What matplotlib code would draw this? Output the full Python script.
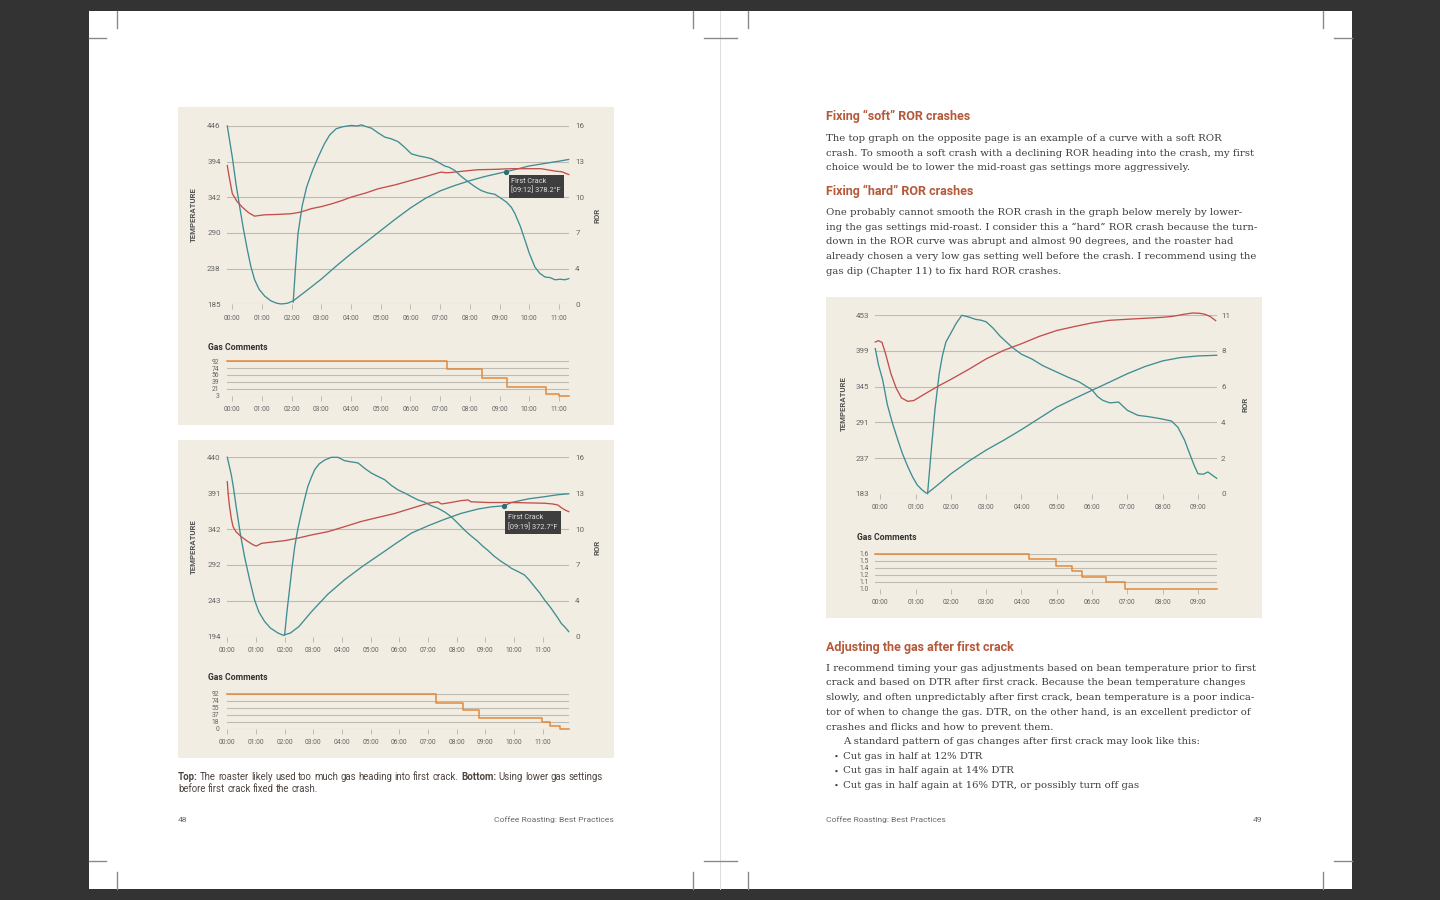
"""
Book spread (pp. 48-49, Coffee Roasting: Best Practices) with three roast logs.
Left page: soft ROR crash (top) vs fixed roast (bottom); right page: hard crash.
"""

import matplotlib
matplotlib.use("Agg")
import matplotlib.pyplot as plt
import numpy as np
from matplotlib.lines import Line2D
from matplotlib.patches import Rectangle

plt.rcParams["font.family"] = ["Roboto", "DejaVu Sans"]

W, H = 1440, 900

FRAME = "#333333"
PANEL = "#f1ede3"
GRID = "#bdbbb2"
TEAL = "#3f8d93"
RED = "#c14f4b"
ORANGE = "#e2893c"
TICK = "#656565"
RUST = "#b5593b"
BODY = "#3c3c3c"

# ---------------------------------------------------------------------------
# Data (time in minutes)
# ---------------------------------------------------------------------------

# top-left graph: soft ROR crash
top_bt_t = [-0.17, 0.0, 0.12, 0.25, 0.37, 0.5, 0.62, 0.75, 0.9, 1.09, 1.3, 1.5, 1.65,
            1.85, 2.05, 2.5, 3.0, 3.5, 4.0, 4.5, 5.0, 5.5, 6.0, 6.5, 7.0, 7.5, 8.0,
            8.5, 9.0, 9.5, 10.0, 10.5, 11.0, 11.33]
top_bt = [446, 400, 362, 327, 296, 266, 241, 221, 207, 197, 190, 186.5, 185.5,
          186.5, 190, 205, 222, 241, 259, 276, 293, 310, 326, 340, 351, 359, 366,
          372, 377, 382, 387.5, 391, 394.5, 397]
top_et_t = [-0.17, -0.1, 0.0, 0.15, 0.34, 0.55, 0.75, 0.9, 1.09, 1.5, 1.99, 2.3, 2.66,
            3.0, 3.34, 3.7, 4.01, 4.5, 4.9, 5.5, 6.03, 6.5, 7.04, 7.2, 7.37, 7.8,
            8.27, 8.8, 9.4, 9.9, 10.4, 10.6, 10.87, 11.1, 11.33]
top_et = [388, 370, 347, 336, 327, 319, 314, 315, 316, 316.5, 317.6, 320, 325,
          328, 332, 337, 342, 348, 354, 360, 366.5, 372, 378.6, 377.5, 378, 380,
          382, 382.5, 383.5, 383.5, 383.5, 382, 380, 379, 375]
top_ror_t = [2.05, 2.12, 2.21, 2.35, 2.5, 2.7, 2.89, 3.1, 3.28, 3.5, 3.75, 4.01, 4.2,
             4.35, 4.5, 4.69, 4.9, 5.14, 5.35, 5.58, 5.8, 6.03, 6.3, 6.5, 6.7, 6.9,
             7.16, 7.3, 7.5, 7.7, 7.94, 8.2, 8.39, 8.6, 8.84, 9.0, 9.23, 9.4, 9.52,
             9.7, 9.86, 10.0, 10.19, 10.35, 10.53, 10.7, 10.87, 11.05, 11.2, 11.33]
top_ror = [0.2, 3.0, 6.3, 8.8, 10.5, 12.0, 13.2, 14.4, 15.2, 15.76, 15.95, 16.05, 16.0,
           16.1, 15.95, 15.8, 15.4, 15.0, 14.85, 14.6, 14.1, 13.5, 13.3, 13.2, 13.07, 12.8,
           12.4, 12.3, 12.0, 11.5, 11.0, 10.5, 10.2, 10.0, 9.87, 9.6, 9.18, 8.7, 8.13,
           7.0, 5.74, 4.6, 3.35, 2.8, 2.45, 2.4, 2.2, 2.25, 2.2, 2.3]
top_gas_t = [-0.17, 7.24, 8.42, 9.26, 10.55, 10.99, 11.33]
top_gas = [92, 71, 49, 24, 7, 3, 3]
top_temp_ticks = ["185", "238", "290", "342", "394", "446"]
top_ror_ticks = ["0", "4", "7", "10", "13", "16"]
top_gas_ticks = ["3", "21", "39", "56", "74", "92"]
top_fc = (9.23, 378.2, "First Crack\n[09:12] 378.2°F")

# bottom-left graph: lower gas before first crack
bot_bt_t = [0.0, 0.07, 0.14, 0.22, 0.31, 0.45, 0.6, 0.78, 0.95, 1.1, 1.3, 1.5, 1.77,
            1.95, 2.2, 2.5, 2.93, 3.5, 4.09, 4.7, 5.26, 5.85, 6.42, 7.0, 7.58, 8.15,
            8.74, 9.2, 9.65, 9.91, 10.5, 11.07, 11.5, 11.91]
bot_bt = [440, 428, 416, 397, 372, 336, 304, 272, 244.5, 228, 215, 206, 199,
          196, 199, 208, 228, 252, 272, 290, 305, 321, 336, 346, 355, 363,
          369, 372, 373.5, 378, 383, 386, 388.5, 390]
bot_et_t = [0.0, 0.03, 0.08, 0.14, 0.2, 0.3, 0.49, 0.7, 0.9, 1.01, 1.1, 1.19, 1.5,
            2.0, 2.5, 2.93, 3.51, 4.1, 4.67, 5.25, 5.84, 6.42, 7.0, 7.35, 7.47, 7.8,
            8.16, 8.4, 8.5, 8.8, 9.09, 9.5, 9.91, 10.5, 11.07, 11.35, 11.53, 11.65,
            11.77, 11.91]
bot_et = [406.6, 390, 372, 356, 345, 338, 331, 325, 320, 318.4, 320, 322, 323.5,
          325.7, 329.5, 333.5, 338, 345, 352, 357.5, 363, 370, 377, 379, 376, 378,
          380.6, 381.5, 379, 378.5, 378, 378, 378, 377.5, 377, 376, 374.6, 371,
          368, 365.5]
bot_ror_t = [2.0, 2.08, 2.17, 2.26, 2.35, 2.46, 2.58, 2.7, 2.81, 2.93, 3.05, 3.2, 3.4,
             3.63, 3.86, 4.09, 4.3, 4.56, 4.8, 5.02, 5.25, 5.49, 5.72, 5.95, 6.2, 6.42,
             6.65, 6.88, 7.1, 7.35, 7.6, 7.81, 8.05, 8.28, 8.5, 8.74, 8.9, 9.09, 9.3,
             9.56, 9.75, 9.91, 10.15, 10.37, 10.55, 10.72, 10.9, 11.07, 11.25, 11.42,
             11.55, 11.65, 11.8, 11.91]
bot_ror = [0.15, 2.2, 4.2, 6.2, 8.0, 9.6, 11.0, 12.3, 13.4, 14.2, 14.9, 15.4, 15.76,
           16.0, 16.0, 15.7, 15.6, 15.5, 15.0, 14.6, 14.3, 14.0, 13.5, 13.1, 12.8, 12.5,
           12.2, 12.0, 11.7, 11.45, 11.1, 10.7, 10.1, 9.5, 9.0, 8.5, 8.1, 7.7, 7.2,
           6.7, 6.4, 6.1, 5.8, 5.5, 5.0, 4.46, 3.9, 3.27, 2.7, 2.08,
           1.6, 1.19, 0.8, 0.45]
bot_gas_t = [0.0, 7.27, 8.22, 8.78, 10.99, 11.25, 11.6, 11.91]
bot_gas = [92, 69, 49, 28, 17, 8, 0, 0]
bot_temp_ticks = ["194", "243", "292", "342", "391", "440"]
bot_ror_ticks = ["0", "4", "7", "10", "13", "16"]
bot_gas_ticks = ["0", "18", "37", "55", "74", "92"]
bot_fc = (9.65, 372.7, "First Crack\n[09:19] 372.7°F")

# right-page graph: hard ROR crash
hard_bt_t = [-0.14, -0.05, 0.07, 0.2, 0.35, 0.5, 0.63, 0.78, 0.92, 1.05, 1.2, 1.3,
             1.34, 1.6, 2.0, 2.5, 3.0, 3.5, 4.0, 4.5, 5.0, 5.5, 6.0, 6.5, 7.0, 7.5,
             8.0, 8.5, 9.0, 9.53]
hard_bt = [402.5, 378, 355, 318, 289, 264, 243.5, 224, 208, 196, 188, 184,
           184, 195, 213, 232, 249, 264, 280, 297, 314, 327, 339.5, 352, 364.6, 375.5,
           384, 389, 391.5, 392.5]
hard_et_t = [-0.14, -0.05, 0.05, 0.15, 0.3, 0.45, 0.6, 0.78, 0.95, 1.2, 1.63, 2.0, 2.5,
             3.0, 3.5, 4.0, 4.5, 5.0, 5.5, 6.0, 6.49, 7.0, 7.5, 8.0, 8.29, 8.6, 8.85,
             9.05, 9.2, 9.35, 9.5]
hard_et = [412.6, 414.6, 412, 395, 365, 343, 328, 322.8, 324, 332, 345.5, 356, 371,
           387, 400, 410, 421, 430, 436, 441.5, 445.4, 447, 448.5, 450, 451.5, 454.5, 456.5,
           456, 454.5, 451, 445]
hard_ror_t = [1.34, 1.45, 1.55, 1.67, 1.76, 1.86, 2.0, 2.15, 2.31, 2.5, 2.7, 2.85, 3.0,
              3.2, 3.4, 3.6, 3.75, 4.0, 4.3, 4.6, 5.0, 5.3, 5.63, 6.0, 6.15, 6.3, 6.5,
              6.75, 7.0, 7.3, 7.6, 7.95, 8.25, 8.43, 8.62, 8.8, 8.9, 9.0, 9.15, 9.28,
              9.4, 9.53]
hard_ror = [0.0, 2.8, 5.2, 7.4, 8.5, 9.35, 9.9, 10.5, 11.0, 10.9, 10.75, 10.7, 10.6,
            10.2, 9.7, 9.3, 9.0, 8.6, 8.3, 7.9, 7.5, 7.2, 6.9, 6.4, 6.0, 5.76, 5.6,
            5.65, 5.14, 4.83, 4.75, 4.62, 4.48, 4.1, 3.3, 2.26, 1.7, 1.23, 1.2, 1.34,
            1.15, 0.95]
hard_gas_t = [-0.14, 4.22, 4.98, 5.42, 5.71, 6.39, 6.94, 9.53]
hard_gas = [1.6, 1.51, 1.40, 1.30, 1.20, 1.11, 1.0, 1.0]
hard_temp_ticks = ["183", "237", "291", "345", "399", "453"]
hard_ror_ticks = ["0", "2", "4", "6", "8", "11"]
hard_gas_ticks = ["1.0", "1.1", "1.2", "1.4", "1.5", "1.6"]

# page text
HEAD_SOFT = "Fixing “soft” ROR crashes"
PARA_SOFT = [
    "The top graph on the opposite page is an example of a curve with a soft ROR",
    "crash. To smooth a soft crash with a declining ROR heading into the crash, my first",
    "choice would be to lower the mid-roast gas settings more aggressively.",
]
HEAD_HARD = "Fixing “hard” ROR crashes"
PARA_HARD = [
    "One probably cannot smooth the ROR crash in the graph below merely by lower-",
    "ing the gas settings mid-roast. I consider this a “hard” ROR crash because the turn-",
    "down in the ROR curve was abrupt and almost 90 degrees, and the roaster had",
    "already chosen a very low gas setting well before the crash. I recommend using the",
    "gas dip (Chapter 11) to fix hard ROR crashes.",
]
HEAD_GAS = "Adjusting the gas after first crack"
PARA_GAS = [
    "I recommend timing your gas adjustments based on bean temperature prior to first",
    "crack and based on DTR after first crack. Because the bean temperature changes",
    "slowly, and often unpredictably after first crack, bean temperature is a poor indica-",
    "tor of when to change the gas. DTR, on the other hand, is an excellent predictor of",
    "crashes and flicks and how to prevent them.",
]
PATTERN = "A standard pattern of gas changes after first crack may look like this:"
BULLETS = [
    "Cut gas in half at 12% DTR",
    "Cut gas in half again at 14% DTR",
    "Cut gas in half again at 16% DTR, or possibly turn off gas",
]
CAPTION_1 = [("Top:", "bold"), ("The roaster likely used too much gas heading into first crack.", "normal"),
             ("Bottom:", "bold"), ("Using lower gas settings", "normal")]
CAPTION_2 = "before first crack fixed the crash."
FOOTER = "Coffee Roasting: Best Practices"


# ---------------------------------------------------------------------------
# Helpers (all positions in pixels, origin top-left)
# ---------------------------------------------------------------------------

fig = plt.figure(figsize=(W / 100, H / 100), dpi=100)
fig.patch.set_facecolor(FRAME)
renderer = fig.canvas.get_renderer()


def box(x0, y0, x1, y1):
    return [x0 / W, 1 - y1 / H, (x1 - x0) / W, (y1 - y0) / H]


def rect(x0, y0, x1, y1, color, z=-5):
    fig.add_artist(Rectangle((x0 / W, 1 - y1 / H), (x1 - x0) / W, (y1 - y0) / H,
                             transform=fig.transFigure, fc=color, ec="none", zorder=z))


def line(xs, ys, color="#8a8a8a", lw=1.0):
    fig.add_artist(Line2D([x / W for x in xs], [1 - y / H for y in ys],
                          transform=fig.transFigure, color=color, lw=lw, zorder=-3))


def text_px(x, y, s, **kw):
    return fig.text(x / W, 1 - y / H, s, **kw)


def width_of(s, **kw):
    t = text_px(0, 0, s, **kw)
    w = t.get_window_extent(renderer).width
    t.remove()
    return w


def fit_size(s, target, **kw):
    """Font size at which s is target pixels wide."""
    return 10 * target / width_of(s, fontsize=10, **kw)


def word_line(words, x0, y, draw=True, **kw):
    """Lay out (word, weight) pairs on one line with normal spacing; return end x."""
    gap = width_of("x x", **kw) - width_of("xx", **kw)
    x = x0
    for w, wt in words:
        t = text_px(x, y, w, fontweight=wt, va="baseline", **kw)
        x += t.get_window_extent(renderer).width + gap
        if not draw:
            t.remove()
    return x - gap


def paragraph(lines, x0, y0, step=14.7, **kw):
    for i, ln in enumerate(lines):
        text_px(x0, y0 + i * step, ln, va="baseline", **kw)


def set_scale(ax, labels):
    lo, hi = float(labels[0]), float(labels[-1])
    ax.set_ylim(lo, hi)
    ax.set_yticks(np.linspace(lo, hi, len(labels)))
    ax.set_yticklabels(labels)


def style(ax, xlim, n_min, xpad, ypad, ysize=5.8):
    ax.set_facecolor("none")
    for s in ax.spines.values():
        s.set_visible(False)
    ax.set_xlim(*xlim)
    ax.set_xticks(range(n_min + 1))
    ax.set_xticklabels([f"{m:02d}:00" for m in range(n_min + 1)])
    ax.tick_params(axis="x", length=3.3, width=0.7, color=GRID, pad=xpad,
                   labelsize=4.9, labelcolor=TICK)
    ax.tick_params(axis="y", length=0, pad=ypad, labelsize=ysize, labelcolor=TICK)
    ax.grid(axis="y", color=GRID, lw=0.8)
    ax.set_axisbelow(True)


def roast_chart(main_px, gas_px, xlim, n_min, bt_t, bt, et_t, et, ror_t, ror,
                gas_t, gas, temp_ticks, ror_ticks, gas_ticks, fc, pads, labels):
    pad_l, pad_r, pad_x, pad_gy, pad_gx = pads

    ax = fig.add_axes(box(*main_px))
    style(ax, xlim, n_min, pad_x, pad_l)
    set_scale(ax, temp_ticks)
    ax.plot(bt_t, bt, color=TEAL, lw=0.95, clip_on=False, zorder=3)
    ax.plot(et_t, et, color=RED, lw=0.95, clip_on=False, zorder=3)

    ax2 = ax.twinx()
    ax2.set_facecolor("none")
    for s in ax2.spines.values():
        s.set_visible(False)
    set_scale(ax2, ror_ticks)
    ax2.tick_params(axis="y", length=0, pad=pad_r, labelsize=5.8, labelcolor=TICK)
    ax2.plot(ror_t, ror, color=TEAL, lw=0.95, clip_on=False, zorder=3)

    if fc is not None:
        t, v, label, off = fc
        ax2.plot([t], [v], "o", ms=2.8, color="#2b6e73", transform=ax.transData, zorder=5)
        ax2.annotate(label, xy=(t, v), xycoords=ax.transData, xytext=off,
                     textcoords="offset points", ha="left", va="top", fontsize=5.3,
                     color="#dedede", linespacing=1.4, zorder=6,
                     bbox=dict(boxstyle="square,pad=0.4", fc="#3e3e3e", ec="none"))

    g = fig.add_axes(box(*gas_px))
    style(g, xlim, n_min, pad_gx, pad_gy, ysize=4.9)
    set_scale(g, gas_ticks)
    g.step(gas_t, gas, where="post", color=ORANGE, lw=1.1, clip_on=False, zorder=3)

    (tx, ty), (rx, ry), (gx, gy) = labels
    text_px(tx, ty, "TEMPERATURE", rotation=90, ha="center", va="center",
            fontsize=5.6, fontweight="bold", color="#555555")
    text_px(rx, ry, "ROR", rotation=90, ha="center", va="center",
            fontsize=5.6, fontweight="bold", color="#555555")
    text_px(gx, gy, "Gas Comments", ha="left", va="center",
            fontsize=6.2, fontweight="bold", color="#333333")


# ---------------------------------------------------------------------------
# Pages and crop marks
# ---------------------------------------------------------------------------

rect(89, 11, 720, 889, "white")
rect(720, 11, 1352, 889, "white")
line([720, 720], [11, 889], color="#dddddd", lw=0.7)

for x in (117, 693, 748, 1323):
    line([x, x], [11, 28])
    line([x, x], [872, 889])
for x0, x1 in ((89, 106), (704, 737), (1334, 1352)):
    line([x0, x1], [38, 38])
    line([x0, x1], [861, 861])

rect(178, 107, 614, 425, PANEL, z=-4)
rect(178, 440, 614, 758, PANEL, z=-4)
rect(826, 297, 1262, 618, PANEL, z=-4)

# ---------------------------------------------------------------------------
# Charts
# ---------------------------------------------------------------------------

roast_chart((227.3, 126, 568.7, 304.3), (227.3, 361.3, 568.7, 395.5), (-0.17, 11.33), 11,
            top_bt_t, top_bt, top_et_t, top_et, top_ror_t, top_ror, top_gas_t, top_gas,
            top_temp_ticks, top_ror_ticks, top_gas_ticks, top_fc + ((3.7, -4.0),),
            (4.75, 4.75, 4.6, 6.0, 4.4), ((193, 215), (597, 215), (208, 348)))

roast_chart((227.3, 457.3, 568.7, 636.7), (227.3, 694, 568.7, 728.7), (0, 11.91), 11,
            bot_bt_t, bot_bt, bot_et_t, bot_et, bot_ror_t, bot_ror, bot_gas_t, bot_gas,
            bot_temp_ticks, bot_ror_ticks, bot_gas_ticks, bot_fc + ((3.2, -5.8),),
            (4.75, 4.75, 4.2, 6.0, 4.0), ((193, 547), (597, 547), (208, 678)))

roast_chart((875.3, 315.3, 1216.7, 493.7), (875.3, 554, 1216.7, 588.7), (-0.14, 9.53), 9,
            hard_bt_t, hard_bt, hard_et_t, hard_et, hard_ror_t, hard_ror, hard_gas_t, hard_gas,
            hard_temp_ticks, hard_ror_ticks, hard_gas_ticks, None,
            (4.3, 3.1, 4.2, 4.6, 4.0), ((843, 404), (1245, 404), (857, 538)))

# ---------------------------------------------------------------------------
# Text
# ---------------------------------------------------------------------------

serif = ["DejaVu Serif", "Liberation Serif"]
body_size = fit_size(PATTERN, 358, family=serif)
head = dict(fontsize=9, fontweight="bold", color=RUST, va="baseline")
body = dict(family=serif, fontsize=body_size, color=BODY)

text_px(826, 120, HEAD_SOFT, **head)
paragraph(PARA_SOFT, 826, 141, **body)
text_px(826, 195, HEAD_HARD, **head)
paragraph(PARA_HARD, 826, 215, **body)
text_px(826, 651, HEAD_GAS, **head)
paragraph(PARA_GAS, 826, 670.7, **body)
text_px(843, 744, PATTERN, va="baseline", **body)
for i, b in enumerate(BULLETS):
    y = 758.7 + i * 14.7
    text_px(836.5, y, "•", va="baseline", ha="center", color=BODY,
            family=serif, fontsize=body_size * 0.8)
    text_px(843, y, b, va="baseline", **body)

# caption: size chosen so the first line runs from 178 to 606 px
cap_words = [(w, wt) for part, wt in CAPTION_1 for w in part.split(" ")]
cap_end = word_line(cap_words, 178, 780, draw=False, fontsize=10, color="#4d4540")
cap = dict(fontsize=10 * 428 / (cap_end - 178), color="#4d4540")
word_line(cap_words, 178, 780, **cap)
word_line([(w, "normal") for w in CAPTION_2.split(" ")], 178, 792, **cap)

foot = dict(fontsize=fit_size(FOOTER, 119), color="#6b6b6b", va="baseline")
text_px(178, 822, "48", ha="left", **foot)
text_px(614, 822, FOOTER, ha="right", **foot)
text_px(826, 822, FOOTER, ha="left", **foot)
text_px(1262, 822, "49", ha="right", **foot)

fig.savefig("out.png", dpi=100, facecolor=FRAME)
